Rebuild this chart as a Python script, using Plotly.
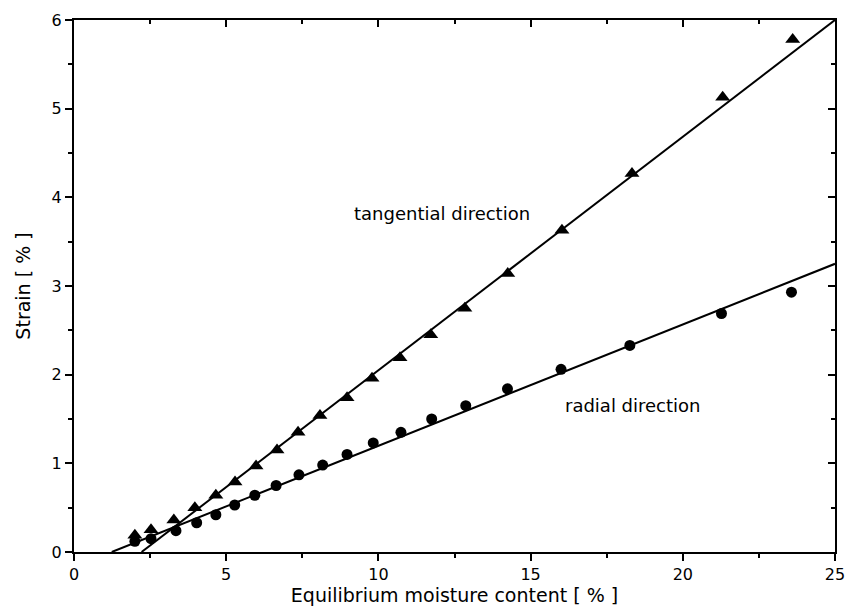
import numpy as np
import plotly.graph_objects as go

# Data
emc_tang = [2.0, 2.53, 3.28, 3.97, 4.66, 5.29, 5.98, 6.67, 7.36, 8.08, 8.97, 9.79, 10.71, 11.72, 12.84, 14.25, 16.03, 18.33, 21.31, 23.61]
strain_tang = [0.19, 0.25, 0.36, 0.50, 0.64, 0.79, 0.97, 1.15, 1.35, 1.54, 1.74, 1.96, 2.19, 2.45, 2.75, 3.14, 3.63, 4.27, 5.13, 5.78]
emc_rad = [2.0, 2.53, 3.35, 4.03, 4.66, 5.28, 5.94, 6.64, 7.39, 8.17, 8.97, 9.83, 10.74, 11.75, 12.87, 14.24, 16.0, 18.26, 21.27, 23.57]
strain_rad = [0.12, 0.15, 0.24, 0.33, 0.42, 0.53, 0.64, 0.75, 0.87, 0.98, 1.10, 1.23, 1.35, 1.50, 1.65, 1.84, 2.06, 2.33, 2.69, 2.93]

# Linear fits (x-intercept, slope)
fit_tang = {"x0": 2.22, "slope": 0.2634}
fit_rad = {"x0": 1.24, "slope": 0.1368}
x_max = 25

xticks = [0, 5, 10, 15, 20, 25]
yticks = [0, 1, 2, 3, 4, 5, 6]

FONT = "DejaVu Sans"

fig = go.Figure()

for fit in (fit_tang, fit_rad):
    xs = np.array([fit["x0"], x_max])
    ys = fit["slope"] * (xs - fit["x0"])
    fig.add_trace(go.Scatter(x=xs, y=ys, mode="lines",
                             line=dict(color="black", width=2), showlegend=False, hoverinfo="skip"))

fig.add_trace(go.Scatter(x=emc_tang, y=strain_tang, mode="markers",
                         marker=dict(symbol="triangle-up", size=13, color="black"),
                         showlegend=False, name="tangential"))
fig.add_trace(go.Scatter(x=emc_rad, y=strain_rad, mode="markers",
                         marker=dict(symbol="circle", size=11, color="black"),
                         showlegend=False, name="radial"))

# invisible trace for top/right frame axes
fig.add_trace(go.Scatter(x=[0], y=[0], xaxis="x2", yaxis="y2", mode="markers",
                         marker=dict(opacity=0), showlegend=False, hoverinfo="skip"))

fig.add_annotation(x=12.1, y=3.82, text="tangential direction", showarrow=False,
                   font=dict(family=FONT, size=18, color="black"))
fig.add_annotation(x=18.35, y=1.65, text="radial direction", showarrow=False,
                   font=dict(family=FONT, size=18, color="black"))

common = dict(tickcolor="black", tickwidth=1.5, showline=True, linecolor="black", linewidth=2,
              showgrid=False, zeroline=False, automargin=False)

fig.update_layout(
    template="none",
    width=845, height=616,
    margin=dict(l=74, r=10, t=20, b=64),
    plot_bgcolor="white", paper_bgcolor="white",
    font=dict(family=FONT, size=16, color="black"),
    xaxis=dict(range=[0, 25], tickvals=xticks, ticks="outside", ticklen=7,
               ticklabeloverflow="allow",
               minor=dict(dtick=2.5, ticks="outside", ticklen=4, tickwidth=1.5, tickcolor="black"),
               title=dict(text="Equilibrium moisture content [ % ]", font=dict(size=19, color="black"), standoff=4),
               tickfont=dict(size=16, color="black"), **common),
    yaxis=dict(range=[0, 6], tickvals=yticks, ticks="outside", ticklen=7,
               ticklabeloverflow="allow",
               minor=dict(dtick=0.5, ticks="outside", ticklen=4, tickwidth=1.5, tickcolor="black"),
               title=dict(text="Strain [ % ]", font=dict(size=19, color="black"), standoff=16),
               tickfont=dict(size=16, color="black"), **common),
    xaxis2=dict(range=[0, 25], overlaying="x", side="top", anchor="y2", tickvals=xticks,
                ticks="inside", ticklen=7, showticklabels=False,
                minor=dict(dtick=2.5, ticks="inside", ticklen=4, tickwidth=1.5, tickcolor="black"),
                **common),
    yaxis2=dict(range=[0, 6], overlaying="y", side="right", anchor="x2", tickvals=yticks,
                ticks="inside", ticklen=7, showticklabels=False,
                minor=dict(dtick=0.5, ticks="inside", ticklen=4, tickwidth=1.5, tickcolor="black"),
                **common),
)

fig.write_html("out.html", config={"displayModeBar": False},
               post_script="document.body.style.margin='0';")
